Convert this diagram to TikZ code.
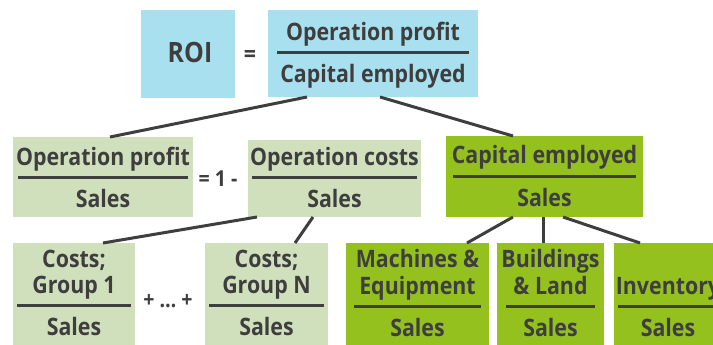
\documentclass[tikz,border=0pt]{standalone}
\usepackage{fontspec}
\newfontfamily\roifont{Open Sans}[FakeStretch=0.89]
\usetikzlibrary{
  positioning,
  calc
}
\definecolor{roiblue}{RGB}{168,224,240}
\definecolor{palegreen}{RGB}{209,224,188}
\definecolor{leafgreen}{RGB}{149,193,31}
\definecolor{ink}{RGB}{62,62,62}

\newcommand{\ratio}[5]{%
  \coordinate (#1-bar) at ([yshift=-#3pt]#1.north);
  \draw[bar] ($(#1.west |- #1-bar)+(#2,0)$) -- ($(#1.east |- #1-bar)-(#2,0)$);
  \node[term, anchor=base] (#1-num) at ([yshift=12pt]#1-bar)
    {\begin{tabular}[b]{@{}c@{}}#4\end{tabular}};
  \node[term, anchor=base] (#1-den) at ([yshift=-30pt]#1-bar) {#5};
}

\begin{document}
\begin{tikzpicture}[x=1pt, y=-1pt,
    box/.style = {inner sep=0, outer sep=0, anchor=north west},
    term/.style = {inner sep=0, text=ink,
      font=\roifont\bfseries\fontsize{24}{26}\selectfont},
    sign/.style = {inner sep=0, text=ink, anchor=base,
      font=\roifont\bfseries\fontsize{22}{24}\selectfont},
    bar/.style = {draw=ink, line width=3pt},
    link/.style = {draw=ink, line width=3pt}]
    \clip (0,0) rectangle (713,345);

    \node[box, fill=roiblue, minimum width=94pt, minimum height=88pt] (roi) at (141,10) {};
    \node[box, fill=roiblue, minimum width=210pt, minimum height=87pt] (top) at (268,10) {};
    \node[box, fill=palegreen, minimum width=180pt, minimum height=80pt] (opp) at (13,137) {};
    \node[box, fill=palegreen, minimum width=173pt, minimum height=77pt] (ocs) at (248,140) {};
    \node[box, fill=leafgreen, minimum width=197pt, minimum height=81pt] (cap) at (446,136) {};
    \node[box, fill=palegreen, minimum width=122pt, minimum height=120pt] (g1) at (13,243) {};
    \node[box, fill=palegreen, minimum width=123pt, minimum height=120pt] (gN) at (205,243) {};
    \node[box, fill=leafgreen, minimum width=143pt, minimum height=120pt] (mach) at (346,243) {};
    \node[box, fill=leafgreen, minimum width=107pt, minimum height=120pt] (bld) at (497,243) {};
    \node[box, fill=leafgreen, minimum width=108pt, minimum height=120pt] (inv) at (614,243) {};

    \node[term, anchor=base, font=\roifont\bfseries\fontsize{28}{30}\selectfont] (roitext) at (190,63) {ROI};
    \node[sign, font=\roifont\bfseries\fontsize{24}{26}\selectfont] (eq) at (250,63) {=};
    \node[sign] (oneminus) at (218,186) {= 1 -};
    \node[sign] (dots) at (168,307) {+ … +};

    \ratio{top}{9}{43}{Operation profit}{Capital employed}
    \ratio{opp}{5}{40}{Operation profit}{Sales}
    \ratio{ocs}{4}{37}{Operation costs}{Sales}
    \ratio{cap}{7}{40}{Capital employed}{Sales}
    \ratio{g1}{4}{62}{Costs;\\Group 1}{Sales}
    \ratio{gN}{4}{62}{Costs;\\Group N}{Sales}
    \ratio{mach}{8}{63}{Machines \&\\Equipment}{Sales}
    \ratio{bld}{9}{63}{Buildings\\\& Land}{Sales}
    \ratio{inv}{4}{63}{Inventory}{Sales}

    \draw[link] ([xshift=39pt]top.south west) -- ([xshift=97pt]opp.north west);
    \draw[link] ([xshift=112pt]top.south west) -- ([xshift=67pt]cap.north west);
    \draw[link] ([xshift=9pt]ocs.south west) -- ([xshift=90pt]g1.north west);
    \draw[link] ([xshift=65pt]ocs.south west) -- ([xshift=90pt]gN.north west);
    \draw[link] ([xshift=67pt]cap.south west) -- ([xshift=121pt]mach.north west);
    \draw[link] ([xshift=97pt]cap.south west) -- ([xshift=46pt]bld.north west);
    \draw[link] ([xshift=117pt]cap.south west) -- ([xshift=26pt]inv.north west);
\end{tikzpicture}
\end{document}
